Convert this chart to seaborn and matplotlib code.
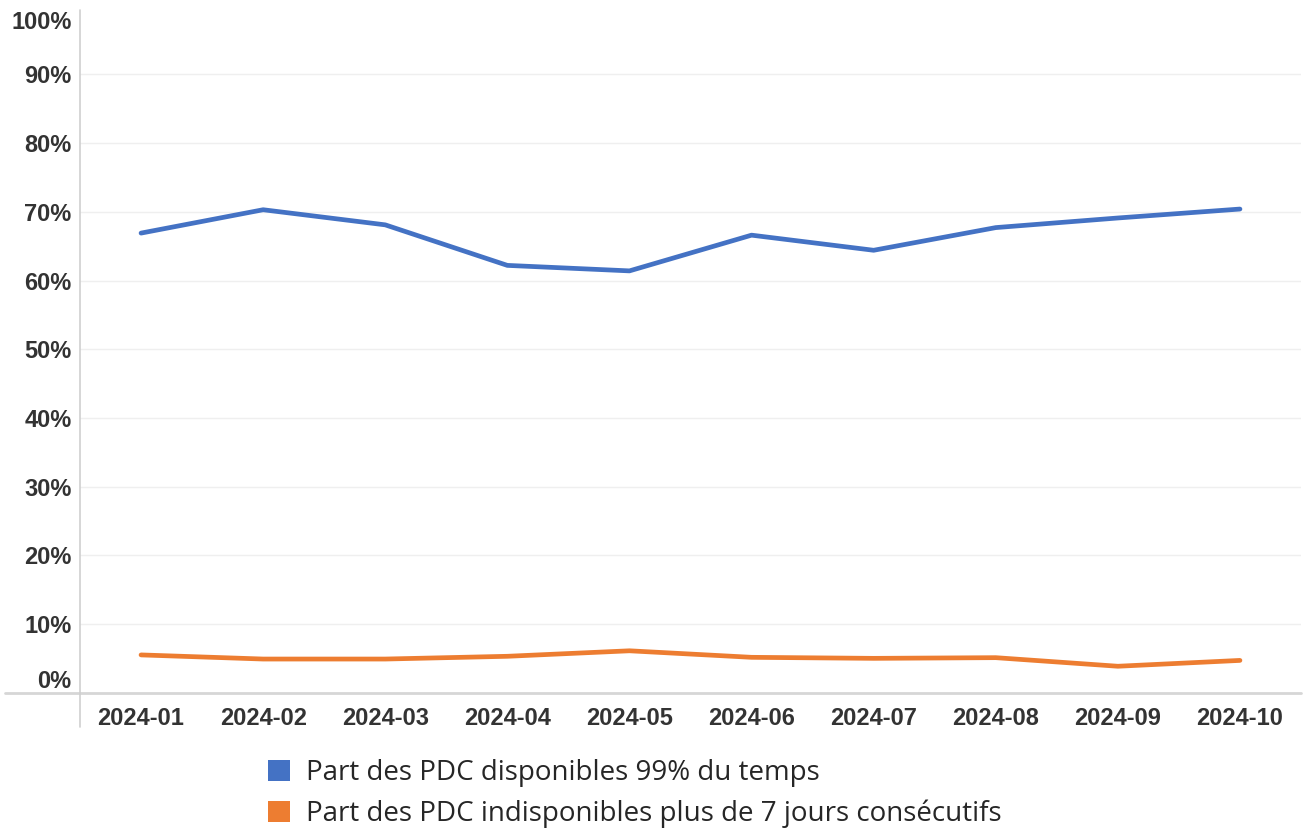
import matplotlib
matplotlib.use("Agg")
import matplotlib.pyplot as plt
import matplotlib.transforms as mtransforms
from matplotlib.patches import Patch
from matplotlib.ticker import FixedLocator
import seaborn as sns
import pandas as pd

months = ["2024-01", "2024-02", "2024-03", "2024-04", "2024-05",
          "2024-06", "2024-07", "2024-08", "2024-09", "2024-10"]
disponibles = [66.9, 70.3, 68.1, 62.2, 61.4, 66.6, 64.4, 67.7, 69.1, 70.4]
indisponibles = [5.5, 4.9, 4.9, 5.3, 6.1, 5.15, 5.0, 5.1, 3.85, 4.7]
series_names = ["Part des PDC disponibles 99% du temps",
                "Part des PDC indisponibles plus de 7 jours consécutifs"]
colors = ["#4472C4", "#ED7D31"]
y_ticks = [0, 10, 20, 30, 40, 50, 60, 70, 80, 90, 100]

df = pd.DataFrame({
    "mois": months * 2,
    "valeur": disponibles + indisponibles,
    "serie": [series_names[0]] * len(months) + [series_names[1]] * len(months),
})

sns.set_theme(style="white")
plt.rcParams["font.family"] = ["Liberation Sans", "DejaVu Sans"]

fig = plt.figure(figsize=(13.1, 8.3), dpi=100)
ax = fig.add_axes([80 / 1310, 1 - 692.7 / 830, 1221 / 1310, 687 / 830])

sns.lineplot(data=df, x="mois", y="valeur", hue="serie", palette=colors,
             hue_order=series_names, linewidth=3.4, ax=ax, legend=False,
             solid_capstyle="round")

ax.set_xlim(-0.5, len(months) - 0.5)
ax.set_ylim(0, 100)
ax.set_xlabel("")
ax.set_ylabel("")
for s in ax.spines.values():
    s.set_visible(False)

# gridlines
for v in y_ticks[1:-1]:
    ax.axhline(v, color="#efefef", lw=1.0, zorder=0)

# axis lines
ax.axhline(0, xmin=-75 / 1221, xmax=1.0, color="#d6d6d6", lw=2, clip_on=False, zorder=1)
ax.axvline(-0.5, ymin=-0.05, ymax=0.994, color="#cfcfcf", lw=1.2, clip_on=False, zorder=1)

ax.set_yticks(y_ticks)
ax.set_yticklabels([f"{v}%" for v in y_ticks])
ax.set_xticks(range(len(months)))
ax.set_xticklabels(months)
ax.xaxis.set_minor_locator(FixedLocator([i + 0.5 for i in range(len(months) - 1)]))
ax.tick_params(axis="x", which="major", length=0, pad=10, labelsize=17,
               labelcolor="#333333")
ax.tick_params(axis="x", which="minor", length=4, width=1, color="#e3e3e3",
               direction="out")
ax.tick_params(axis="y", length=0, pad=6, labelsize=17, labelcolor="#333333")
for lab in ax.get_xticklabels() + ax.get_yticklabels():
    lab.set_fontweight("bold")
ylabs = ax.get_yticklabels()
ylabs[0].set_verticalalignment("bottom")
ylabs[-1].set_verticalalignment("top")
ylabs[-1].set_transform(ylabs[-1].get_transform() +
                        mtransforms.ScaledTranslation(0, -5 / 100, fig.dpi_scale_trans))

handles = [Patch(facecolor=c, edgecolor="none") for c in colors]
fig.legend(handles, series_names, loc="upper left",
           bbox_to_anchor=(268 / 1310, 1 - 759 / 830), frameon=False,
           prop={"family": "Open Sans", "size": 20},
           handlelength=0.8, handleheight=0.8, handletextpad=0.55,
           labelspacing=0.45, borderaxespad=0, borderpad=0)

fig.savefig("out.png", dpi=100, facecolor="white")
